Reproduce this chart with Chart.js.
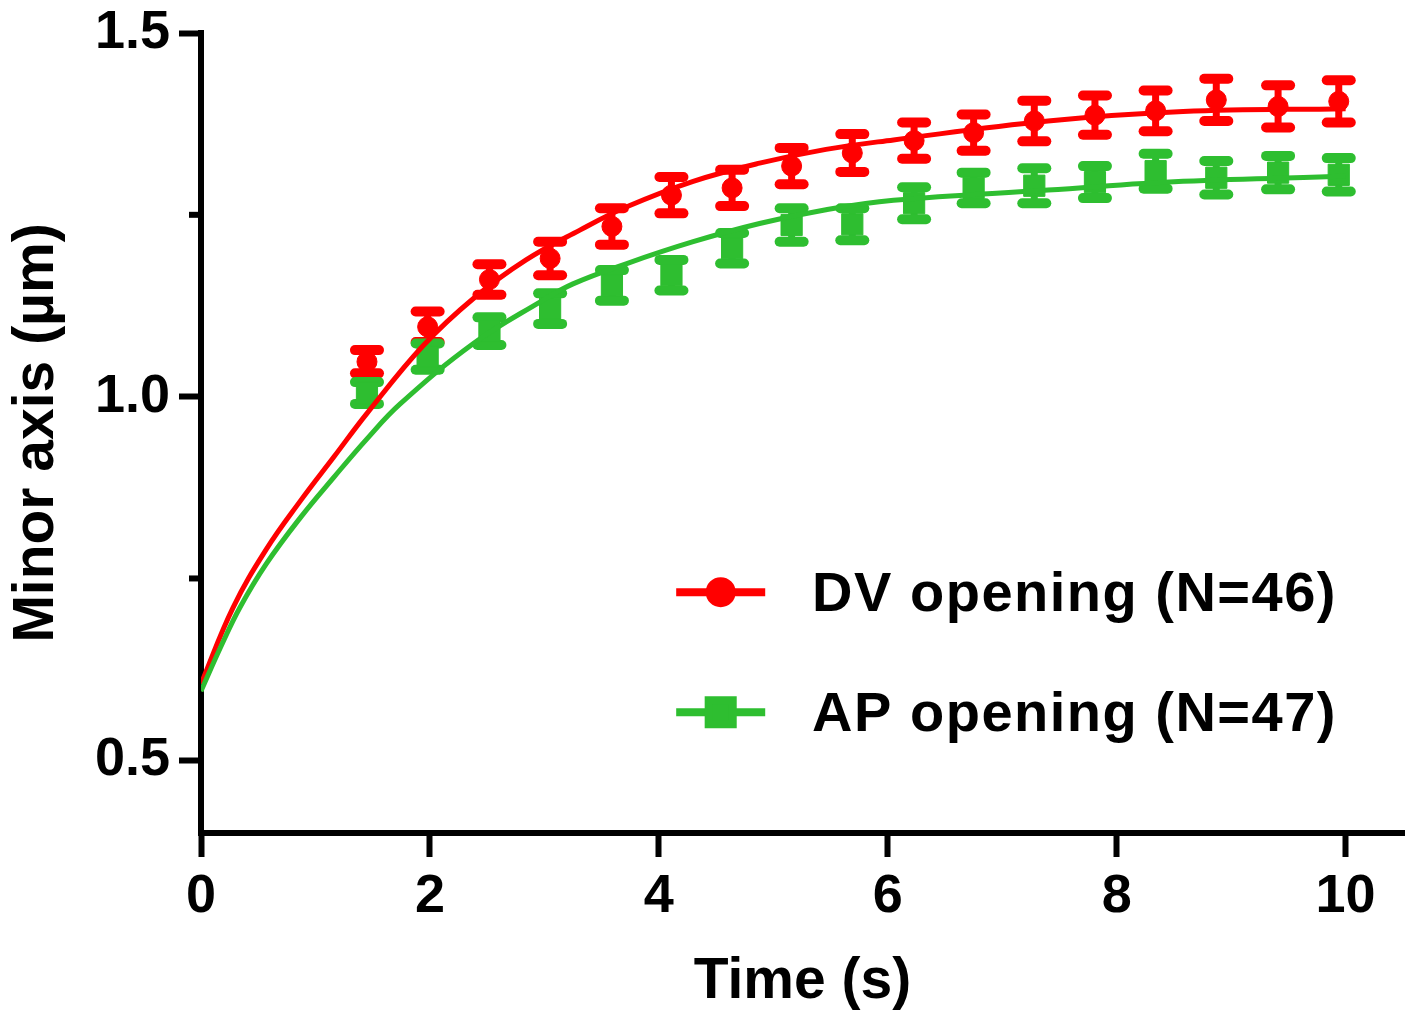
<!DOCTYPE html>
<html>
<head>
<title>Minor axis vs time</title>
<script src="https://cdn.jsdelivr.net/npm/chart.js@4.4.0/dist/chart.umd.min.js"></script>
<style>
  html, body { margin: 0; padding: 0; background: #fff; overflow: hidden; }
  #container { width: 1408px; height: 1019px; position: relative; }
  #canvas { display: block; }
</style>
</head>
<body>
<div id="container">
  <canvas id="canvas" width="1408" height="1019"></canvas></div>
<script>

// sample times (s)
var times = [1.45, 1.98, 2.52, 3.05, 3.59, 4.11, 4.64, 5.16, 5.69, 6.23, 6.75, 7.28, 7.81, 8.34, 8.87, 9.41, 9.94];

// DV opening (N=46): mean and SEM
var dvMean = [1.048, 1.096, 1.161, 1.190, 1.234, 1.277, 1.287, 1.317, 1.335, 1.352, 1.363, 1.379, 1.387, 1.393, 1.408, 1.399, 1.406];
var dvSem  = [0.016, 0.021, 0.021, 0.023, 0.025, 0.025, 0.025, 0.025, 0.026, 0.025, 0.025, 0.028, 0.027, 0.028, 0.029, 0.029, 0.029];

// AP opening (N=47): mean and SEM
var apMean = [1.005, 1.055, 1.090, 1.121, 1.153, 1.167, 1.204, 1.236, 1.237, 1.266, 1.287, 1.290, 1.295, 1.310, 1.301, 1.308, 1.305];
var apSem  = [0.015, 0.018, 0.019, 0.021, 0.021, 0.021, 0.021, 0.023, 0.022, 0.022, 0.021, 0.024, 0.022, 0.024, 0.023, 0.023, 0.023];

// fitted curves, points
var dvFitT = [0, 0.28, 0.57, 0.87, 1.16, 1.45, 1.94, 2.38, 2.84, 3.31, 3.72, 4.30, 4.88, 5.46, 6.05, 7.40, 8.58, 10.0];
var dvFitY = [0.605, 0.710, 0.790, 0.857, 0.917, 0.977, 1.070, 1.135, 1.188, 1.229, 1.261, 1.296, 1.321, 1.340, 1.353, 1.379, 1.392, 1.396];
var apFitT = [0, 0.17, 0.34, 0.57, 0.87, 1.16, 1.45, 1.74, 2.38, 2.96, 3.25, 3.72, 4.30, 4.88, 5.46, 6.05, 7.40, 8.58, 10.0];
var apFitY = [0.595, 0.655, 0.710, 0.770, 0.834, 0.889, 0.942, 0.990, 1.073, 1.130, 1.155, 1.183, 1.213, 1.238, 1.257, 1.270, 1.284, 1.296, 1.303];

// axis ticks
var xTicks = [0, 2, 4, 6, 8, 10];
var yTicks = [0.5, 1.0, 1.5];
var yMinorTicks = [0.75, 1.25];

var seriesNames = ['DV opening (N=46)', 'AP opening (N=47)'];

var RED = '#ff0000';
var GREEN = 'rgb(46,190,48)';
var FONT = "'Liberation Sans', Arial, sans-serif";

function pairs(xs, ys) {
  return xs.map(function (x, i) { return { x: x, y: ys[i] }; });
}

// error bars, drawn right before the dataset they belong to
var errorBars = {
  id: 'errorBars',
  beforeDatasetDraw: function (chart, args) {
    var ds = chart.data.datasets[args.index];
    if (!ds.errors) return;
    var xs = chart.scales.x, ys = chart.scales.y, ctx = chart.ctx;
    ctx.save();
    ctx.strokeStyle = ds.borderColor;
    ctx.lineCap = 'round';
    ds.data.forEach(function (p, i) {
      var px = xs.getPixelForValue(p.x);
      var top = ys.getPixelForValue(p.y + ds.errors[i]);
      var bot = ys.getPixelForValue(p.y - ds.errors[i]);
      ctx.lineWidth = 7;
      ctx.beginPath(); ctx.moveTo(px, top); ctx.lineTo(px, bot); ctx.stroke();
      ctx.lineWidth = 10;
      [top, bot].forEach(function (cy) {
        ctx.beginPath(); ctx.moveTo(px - 12, cy); ctx.lineTo(px + 12, cy); ctx.stroke();
      });
    });
    ctx.restore();
  }
};

// short minor ticks on the y axis
var minorTicks = {
  id: 'minorTicks',
  afterDraw: function (chart) {
    var ys = chart.scales.y, ctx = chart.ctx;
    var x0 = chart.chartArea.left;
    ctx.save();
    ctx.strokeStyle = '#000';
    ctx.lineWidth = 6;
    yMinorTicks.forEach(function (v) {
      var py = ys.getPixelForValue(v);
      ctx.beginPath(); ctx.moveTo(x0 - 12, py); ctx.lineTo(x0, py); ctx.stroke();
    });
    ctx.restore();
  }
};

// legend in the lower right of the plot area
var fitLegend = {
  id: 'fitLegend',
  afterDraw: function (chart) {
    var a = chart.chartArea, ctx = chart.ctx;
    var w = a.right - a.left, h = a.bottom - a.top;
    var x1 = a.left + 0.395 * w, x2 = a.left + 0.469 * w, tx = a.left + 0.508 * w;
    var rows = [a.top + 0.699 * h, a.top + 0.849 * h];
    ctx.save();
    [0, 1].forEach(function (i) {
      var ds = chart.data.datasets[i];
      var y = rows[i];
      ctx.strokeStyle = ds.borderColor;
      ctx.lineWidth = 8;
      ctx.beginPath(); ctx.moveTo(x1, y); ctx.lineTo(x2, y); ctx.stroke();
      ctx.fillStyle = ds.backgroundColor;
      Chart.helpers.drawPoint(ctx, {
        pointStyle: ds.pointStyle, radius: i === 0 ? 11 : 17, borderWidth: 1, rotation: 0
      }, (x1 + x2) / 2, y);
      ctx.fillStyle = '#000';
      ctx.font = 'bold 56px ' + FONT;
      ctx.letterSpacing = '1.5px';
      ctx.textBaseline = 'alphabetic';
      ctx.textAlign = 'left';
      ctx.fillText(seriesNames[i], tx, y + 19);
    });
    ctx.restore();
  }
};

var ctx = document.getElementById('canvas').getContext('2d');
window.myChart = new Chart(ctx, {
  type: 'scatter',
  data: {
    datasets: [
      {
        label: seriesNames[0],
        data: pairs(times, dvMean),
        errors: dvSem,
        showLine: false,
        pointStyle: 'circle',
        pointRadius: 10,
        borderColor: RED,
        backgroundColor: RED,
        order: 4
      },
      {
        label: seriesNames[1],
        data: pairs(times, apMean),
        errors: apSem,
        showLine: false,
        pointStyle: 'rect',
        pointRadius: 15,
        borderColor: GREEN,
        backgroundColor: GREEN,
        order: 3
      },
      {
        label: 'DV fit',
        data: pairs(dvFitT, dvFitY),
        showLine: true,
        pointRadius: 0,
        borderColor: RED,
        backgroundColor: RED,
        borderWidth: 5,
        tension: 0.4,
        order: 2
      },
      {
        label: 'AP fit',
        data: pairs(apFitT, apFitY),
        showLine: true,
        pointRadius: 0,
        borderColor: GREEN,
        backgroundColor: GREEN,
        borderWidth: 5,
        tension: 0.4,
        order: 1
      }
    ]
  },
  options: {
    responsive: false,
    animation: false,
    devicePixelRatio: 1,
    layout: { autoPadding: false, padding: { top: 33, right: 4, left: 0, bottom: 0 } },
    plugins: {
      legend: { display: false },
      tooltip: { enabled: false }
    },
    scales: {
      x: {
        type: 'linear',
        min: 0,
        max: 10.51,
        afterBuildTicks: function (scale) {
          scale.ticks = xTicks.map(function (v) { return { value: v }; });
        },
        afterFit: function (scale) {
          scale.height = 186;
          scale.paddingLeft = 0;
          scale.paddingRight = 0;
        },
        grid: {
          drawOnChartArea: false,
          drawTicks: true,
          tickLength: 24,
          tickWidth: 6,
          tickColor: '#000'
        },
        border: { display: true, width: 6, color: '#000' },
        ticks: {
          color: '#000',
          padding: 8,
          maxRotation: 0,
          font: { family: FONT, size: 54, weight: 'bold' },
          callback: function (v) { return String(v); }
        },
        title: {
          display: true,
          text: 'Time (s)',
          color: '#000',
          padding: { top: 0, bottom: 3 },
          font: { family: FONT, size: 57, weight: 'bold' }
        }
      },
      y: {
        type: 'linear',
        min: 0.4,
        max: 1.5,
        afterBuildTicks: function (scale) {
          scale.ticks = yTicks.map(function (v) { return { value: v }; });
        },
        afterFit: function (scale) {
          scale.width = 201;
          scale.paddingTop = 0;
          scale.paddingBottom = 0;
        },
        grid: {
          drawOnChartArea: false,
          drawTicks: true,
          tickLength: 22,
          tickWidth: 6,
          tickColor: '#000'
        },
        border: { display: true, width: 6, color: '#000' },
        ticks: {
          color: '#000',
          padding: 9,
          font: { family: FONT, size: 54, weight: 'bold' },
          callback: function (v) { return v.toFixed(1); }
        },
        title: {
          display: true,
          text: 'Minor axis (µm)',
          color: '#000',
          padding: { top: 3, bottom: 0 },
          font: { family: FONT, size: 57, weight: 'bold' }
        }
      }
    }
  },
  plugins: [errorBars, minorTicks, fitLegend]
});

</script>

</body>
</html>
